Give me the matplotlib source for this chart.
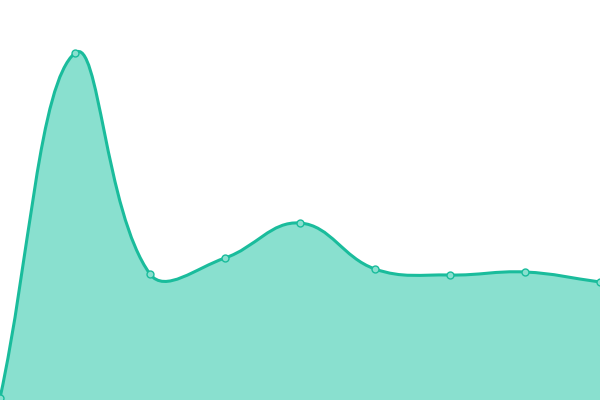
import numpy as np
import matplotlib
matplotlib.use('Agg')
import matplotlib.pyplot as plt
from matplotlib.path import Path
from matplotlib.patches import PathPatch

# series values (y axis runs 0..100)
positions = [0, 1, 2, 3, 4, 5, 6, 7, 8]
values = [0.5, 86.75, 31.5, 35.5, 44.25, 32.75, 31.25, 32, 29.5]

lineColor = '#1abc9c'
fillColor = '#89e0cf'
tension = 0.4


def splineControls(xs, ys, sx, sy):
    """Cardinal spline control points (chart.js style), distances in pixel space."""
    n = len(xs)
    cps = []
    for i in range(n):
        p0 = (xs[max(i - 1, 0)], ys[max(i - 1, 0)])
        p1 = (xs[i], ys[i])
        p2 = (xs[min(i + 1, n - 1)], ys[min(i + 1, n - 1)])
        d01 = np.hypot((p1[0] - p0[0]) * sx, (p1[1] - p0[1]) * sy)
        d12 = np.hypot((p2[0] - p1[0]) * sx, (p2[1] - p1[1]) * sy)
        tot = d01 + d12
        fa = tension * d01 / tot if tot else 0
        fb = tension * d12 / tot if tot else 0
        prevCp = (p1[0] - fa * (p2[0] - p0[0]), p1[1] - fa * (p2[1] - p0[1]))
        nextCp = (p1[0] + fb * (p2[0] - p0[0]), p1[1] + fb * (p2[1] - p0[1]))
        cps.append((prevCp, nextCp))
    return cps


fig = plt.figure(figsize=(6, 4), dpi=100)
ax = fig.add_axes([0, 0, 1, 1])
ax.set_xlim(0, 8)
ax.set_ylim(0, 100)
ax.axis('off')

cps = splineControls(positions, values, 75, 4)
verts = [(positions[0], values[0])]
codes = [Path.MOVETO]
for i in range(1, len(positions)):
    verts += [cps[i - 1][1], cps[i][0], (positions[i], values[i])]
    codes += [Path.CURVE4] * 3

linePath = Path(verts, codes)
fillPath = Path(verts + [(positions[-1], 0), (positions[0], 0), verts[0]],
                codes + [Path.LINETO, Path.LINETO, Path.CLOSEPOLY])

ax.add_patch(PathPatch(fillPath, facecolor=fillColor, edgecolor='none'))
ax.add_patch(PathPatch(linePath, facecolor='none', edgecolor=lineColor, lw=2.2))
ax.plot(positions, values, 'o', ms=5, mfc=fillColor, mec=lineColor, mew=1)

fig.savefig('out.png', dpi=100)
